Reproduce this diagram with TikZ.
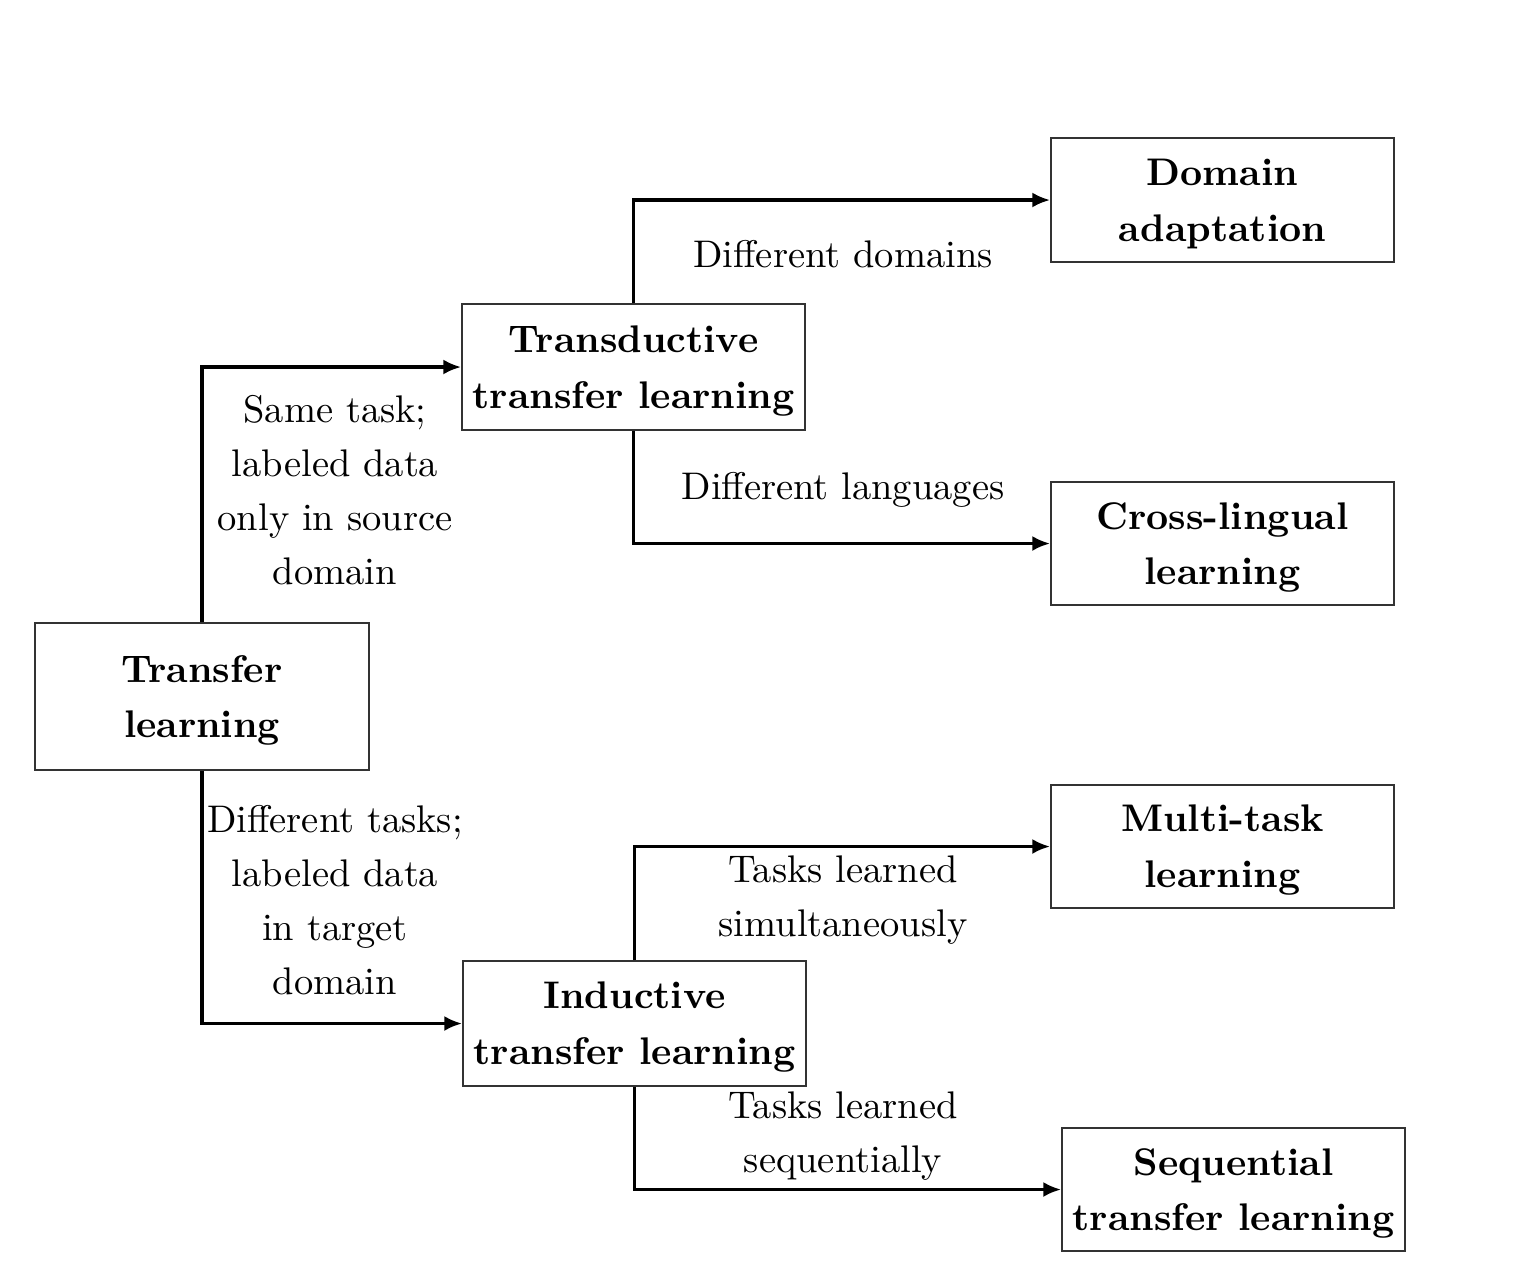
\documentclass[tikz,border=0pt]{standalone}
\usetikzlibrary{arrows.meta}
\begin{document}
\begin{tikzpicture}[x=0.2597pt, y=-0.2597pt,
  box/.style={draw=black!80, line width=0.5pt, align=center, inner sep=0pt, text depth=0pt,
    font=\fontsize{10}{14.5}\selectfont\bfseries},
  lbl/.style={align=center, inner sep=0pt, font=\fontsize{10}{14}\selectfont},
  conn/.style={line width=0.8pt, -{Latex[length=4.6pt,width=3.9pt]}}]
\useasboundingbox (0,0) rectangle (1527,1273);
\node[box, minimum width=334*0.2597pt, minimum height=147*0.2597pt] (tl) at (202,696.5) {Transfer\\learning};
\node[box, minimum width=343*0.2597pt, minimum height=126*0.2597pt] (tr) at (633.5,367) {Transductive\\transfer learning};
\node[box, minimum width=343*0.2597pt, minimum height=125*0.2597pt] (in) at (634.5,1023.5) {Inductive\\transfer learning};
\node[box, minimum width=343*0.2597pt, minimum height=124*0.2597pt] (da) at (1222.5,200) {Domain\\adaptation};
\node[box, minimum width=343*0.2597pt, minimum height=123*0.2597pt] (cl) at (1222.5,543.5) {Cross-lingual\\learning};
\node[box, minimum width=343*0.2597pt, minimum height=123*0.2597pt] (mt) at (1222.5,846.5) {Multi-task\\learning};
\node[box, minimum width=343*0.2597pt, minimum height=123*0.2597pt] (sq) at (1233.5,1189.5) {Sequential\\transfer learning};

\draw[conn] (tl.north) |- (tr.west);
\draw[conn] (tl.south) |- (in.west);
\draw[conn] (tr.north) |- (da.west);
\draw[conn] (tr.south) |- (cl.west);
\draw[conn] (in.north) |- (mt.west);
\draw[conn] (in.south) |- (sq.west);

\node[lbl] (l1) at (335,490) {Same task;\\labeled data\\only in source\\domain};
\node[lbl] (l2) at (335,900) {Different tasks;\\labeled data\\in target\\domain};
\node[lbl] (l3) at (843,254) {Different domains};
\node[lbl] (l4) at (843,490) {Different languages};
\node[lbl] (l5) at (843,900) {Tasks learned\\simultaneously};
\node[lbl] (l6) at (843,1136) {Tasks learned\\sequentially};
\end{tikzpicture}
\end{document}
